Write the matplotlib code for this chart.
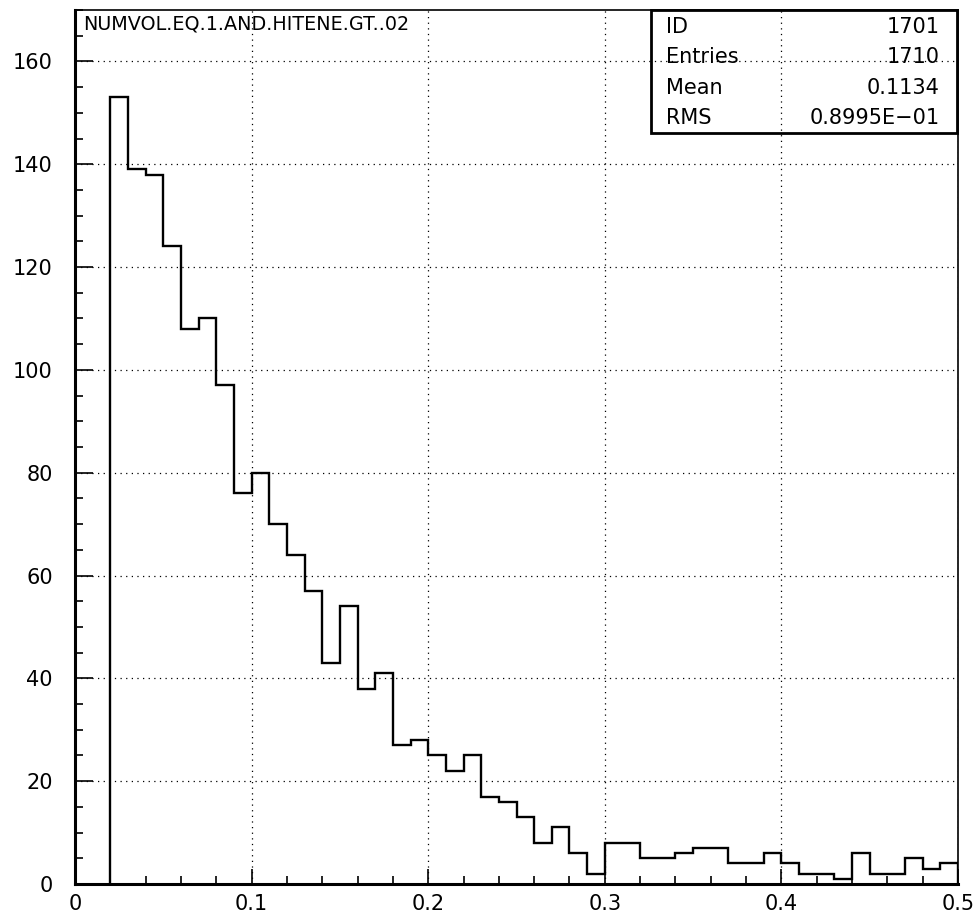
import numpy as np
import matplotlib.pyplot as plt
from matplotlib.patches import Rectangle

plt.rcParams['font.family'] = ['DejaVu Sans']

# Bin contents, 0.01 wide bins starting at 0.02
bin_low = 0.02
bin_width = 0.01
counts = [153, 139, 138, 124, 108, 110, 97, 76, 80, 70,
          64, 57, 43, 54, 38, 41, 27, 28, 25, 22,
          25, 17, 16, 13, 8, 11, 6, 2, 8, 8,
          5, 5, 6, 7, 7, 4, 4, 6, 4, 2,
          2, 1, 6, 2, 2, 5, 3, 4]

hist_title = 'NUMVOL.EQ.1.AND.HITENE.GT..02'
stat_names = ['ID', 'Entries', 'Mean', 'RMS']
stat_values = ['1701', '1710', '0.1134', '0.8995E\u221201']

x_ticks = [0, 0.1, 0.2, 0.3, 0.4, 0.5]
x_labels = ['0', '0.1', '0.2', '0.3', '0.4', '0.5']
y_ticks = [0, 20, 40, 60, 80, 100, 120, 140, 160]

W, H = 979, 918
fig = plt.figure(figsize=(W / 100, H / 100), dpi=100)
ax = fig.add_axes([75 / W, 1 - 884 / H, 883 / W, 874 / H])

edges = bin_low + bin_width * np.arange(len(counts) + 1)
ax.stairs(counts, edges, baseline=0, color='black', lw=1.7)

ax.set_xlim(0, 0.5)
ax.set_ylim(0, 170)
ax.set_xticks(x_ticks)
ax.set_xticklabels(x_labels)
ax.set_xticks(np.arange(0, 0.501, 0.02), minor=True)
ax.set_yticks(y_ticks)
ax.set_yticklabels([str(v) for v in y_ticks])
ax.set_yticks(np.arange(0, 171, 5), minor=True)

ax.tick_params(axis='both', which='both', direction='in', labelsize=15,
               color='black', width=1.2)
ax.tick_params(axis='x', which='major', length=11, pad=7)
ax.tick_params(axis='y', which='major', length=13, pad=16)
ax.tick_params(axis='both', which='minor', length=6)
ax.tick_params(top=False, right=False)

ax.grid(True, which='major', color='black', linestyle=(0, (1, 3.5)), lw=0.9)

ax.spines['left'].set_linewidth(2.2)
ax.spines['bottom'].set_linewidth(2.2)
ax.spines['top'].set_linewidth(1.2)
ax.spines['right'].set_linewidth(1.2)

# Title at top left inside the frame
fig.text(83 / W, 1 - 24 / H, hist_title, fontsize=13.8, ha='left', va='center')

# Statistics box, transparent so the grid shows through
box_left, box_right, box_top, box_bottom = 651, 957, 10, 133
fig.add_artist(Rectangle((box_left / W, 1 - box_bottom / H),
                         (box_right - box_left) / W,
                         (box_bottom - box_top) / H,
                         transform=fig.transFigure, fill=False,
                         edgecolor='black', lw=2))
row_y = [27, 57, 88, 118]
for name, val, y in zip(stat_names, stat_values, row_y):
    fig.text(666 / W, 1 - y / H, name, fontsize=15, ha='left', va='center')
    fig.text(940 / W, 1 - y / H, val, fontsize=15, ha='right', va='center')

fig.savefig('out.png', dpi=100)
